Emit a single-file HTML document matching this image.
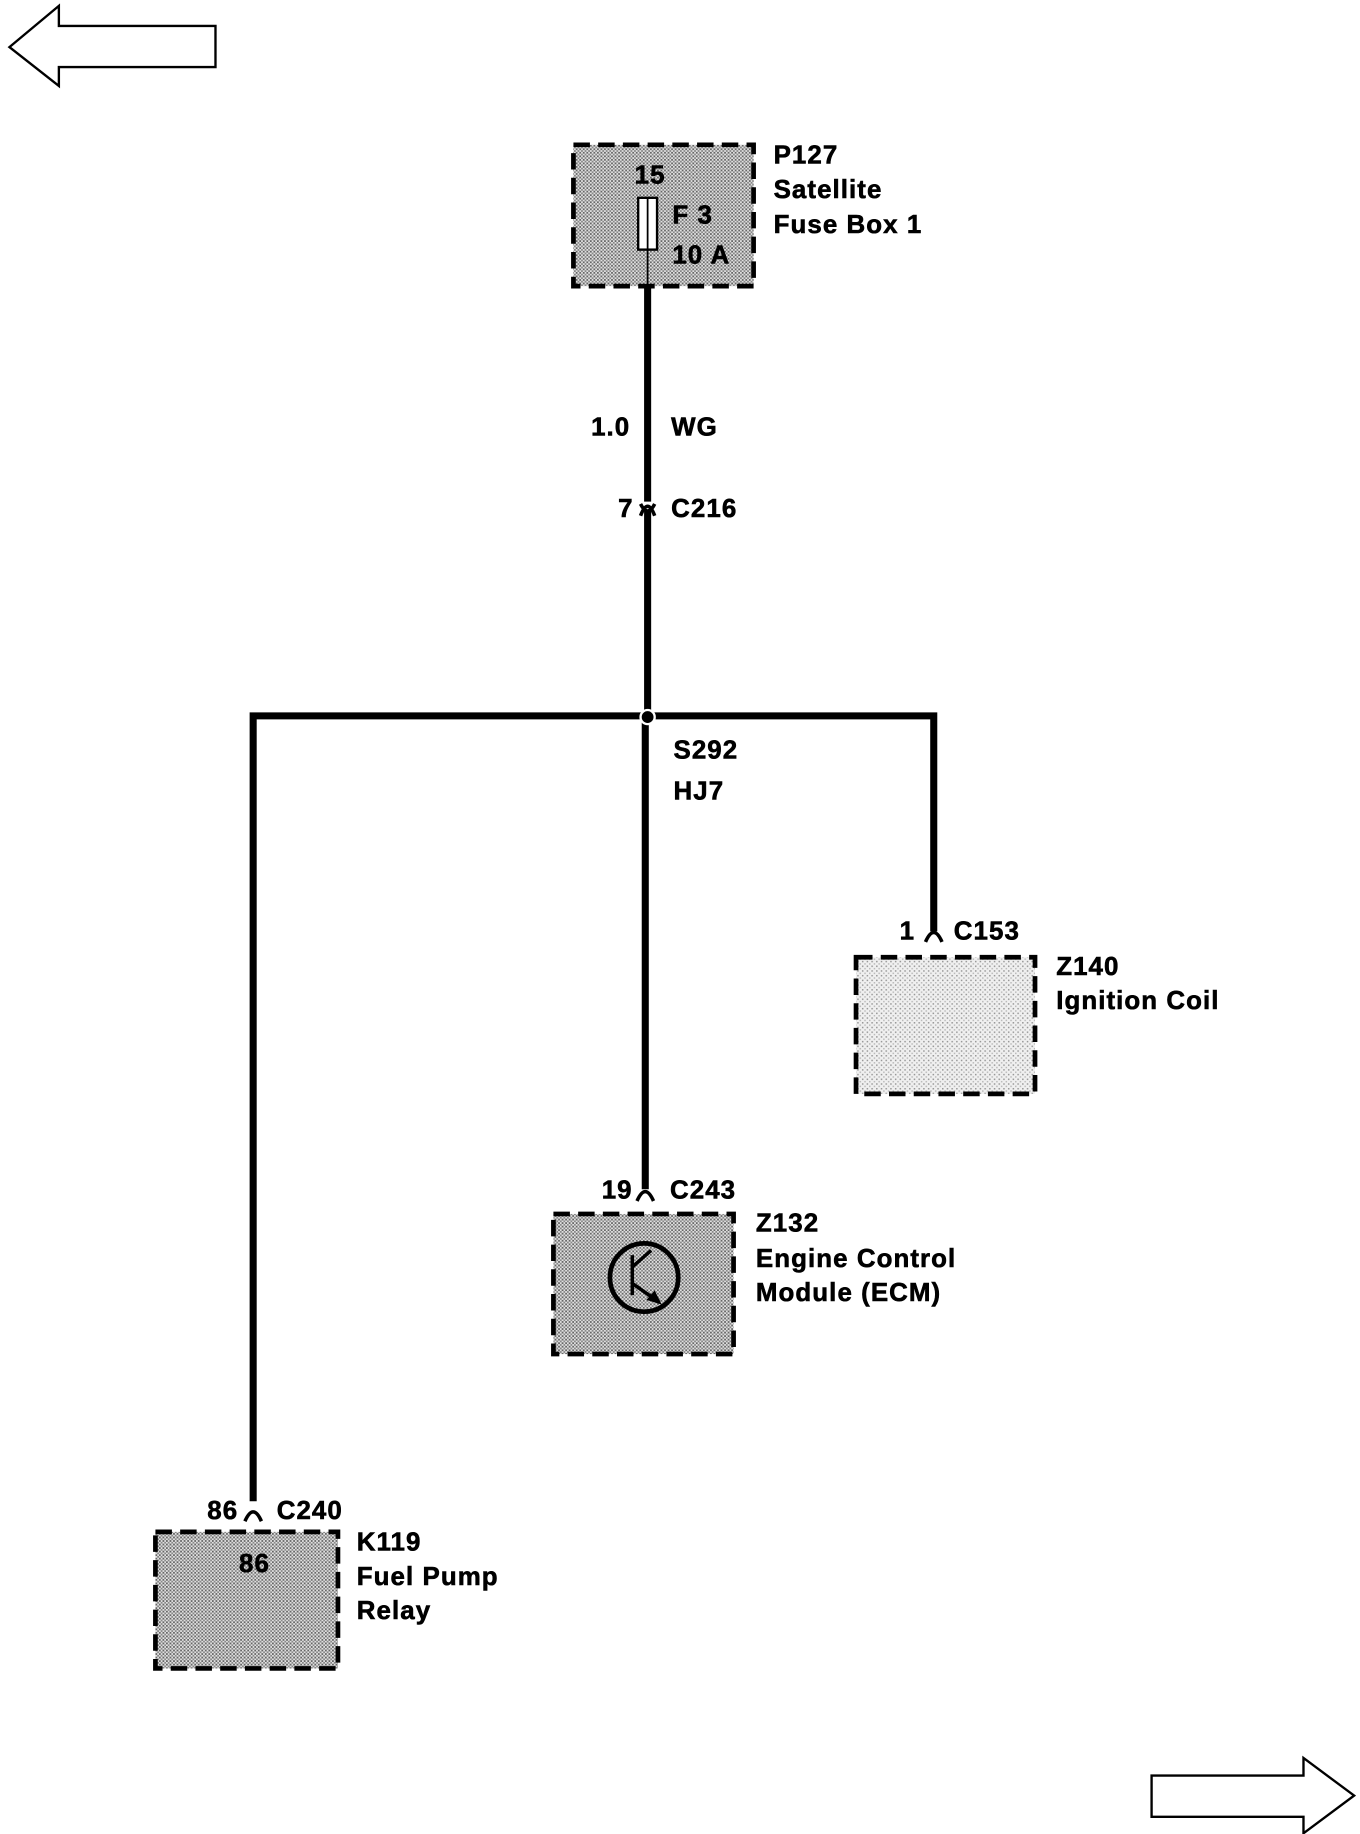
<!DOCTYPE html>
<html><head><meta charset="utf-8"><style>
html,body{margin:0;padding:0;background:#fff;}
svg{display:block;}
text{font-family:"Liberation Sans",Arial,sans-serif;font-weight:bold;font-size:22px;letter-spacing:0.9px;fill:#000;stroke:#000;stroke-width:0.5px;}
</style></head><body>
<svg width="1360" height="1834" viewBox="0 0 1155 1557.6" preserveAspectRatio="none" xmlns="http://www.w3.org/2000/svg">
<defs>
<pattern id="d" width="3" height="3" patternUnits="userSpaceOnUse">
<rect width="3" height="3" fill="#e0e0e0"/><rect width="1.5" height="1.5" fill="#666"/><rect x="1.5" y="1.5" width="1.5" height="1.5" fill="#888"/>
</pattern>
<pattern id="l" width="4" height="4" patternUnits="userSpaceOnUse">
<rect width="4" height="4" fill="#f0f0f0"/><rect width="1.3" height="1.3" fill="#999"/><rect x="2" y="2" width="1.3" height="1.3" fill="#bbb"/>
</pattern>
</defs>
<polygon points="8,40 50,5 50,22 183,22 183,57 50,57 50,73" fill="#fff" stroke="#000" stroke-width="2"/>
<polygon points="1150,1525 1107,1493 1107,1508 978,1508 978,1543 1107,1543 1107,1557" fill="#fff" stroke="#000" stroke-width="2"/>

<rect x="487" y="123" width="153" height="120" fill="url(#d)" stroke="#000" stroke-width="4" stroke-dasharray="14,7"/>
<rect x="542" y="168" width="16" height="44" fill="#fff" stroke="#000" stroke-width="2"/>
<line x1="550" y1="168" x2="550" y2="243" stroke="#000" stroke-width="1.5"/>
<text x="539" y="156">15</text>
<text x="571" y="190">F 3</text>
<text x="571" y="224">10 A</text>
<text x="657" y="139">P127</text>
<text x="657" y="168">Satellite</text>
<text x="657" y="198">Fuse Box 1</text>

<g stroke="#000" stroke-width="6" fill="none">
<line x1="550" y1="243" x2="550" y2="426"/>
<line x1="550" y1="434" x2="550" y2="608"/>
<polyline points="215,1275 215,608 793,608 793,791" stroke-linejoin="miter"/>
<line x1="548" y1="608" x2="548" y2="1010"/>
</g>
<circle cx="550" cy="609" r="6" fill="#000" stroke="#fff" stroke-width="2"/>
<text x="502" y="370">1.0</text>
<text x="570" y="370">WG</text>
<path d="M544,438 Q550,422 556,438 M544,428 Q550,440 556,428" stroke="#000" stroke-width="3" fill="none"/>
<text x="525" y="439">7</text>
<text x="570" y="439">C216</text>
<text x="572" y="644">S292</text>
<text x="572" y="679">HJ7</text>

<path d="M786,800 Q793,784 800,800" stroke="#000" stroke-width="3" fill="none"/>
<text x="764" y="798">1</text>
<text x="810" y="798">C153</text>
<rect x="727" y="813" width="152" height="116" fill="url(#l)" stroke="#000" stroke-width="4" stroke-dasharray="14,7"/>
<text x="897" y="828">Z140</text>
<text x="897" y="857">Ignition Coil</text>

<path d="M541,1020 Q548,1004 555,1020" stroke="#000" stroke-width="3" fill="none"/>
<text x="511" y="1018">19</text>
<text x="569" y="1018">C243</text>
<rect x="470" y="1031" width="153" height="119" fill="url(#d)" stroke="#000" stroke-width="4" stroke-dasharray="14,7"/>
<circle cx="547" cy="1085" r="29" fill="none" stroke="#000" stroke-width="4"/>
<line x1="537" y1="1066" x2="537" y2="1100" stroke="#000" stroke-width="3"/>
<line x1="537" y1="1076" x2="553" y2="1062" stroke="#000" stroke-width="3"/>
<line x1="537" y1="1090" x2="560" y2="1106" stroke="#000" stroke-width="3"/>
<polygon points="562,1108 549,1104 556,1096" fill="#000"/>
<text x="642" y="1046">Z132</text>
<text x="642" y="1076">Engine Control</text>
<text x="642" y="1105">Module (ECM)</text>

<path d="M208,1292 Q215,1276 222,1292" stroke="#000" stroke-width="3" fill="none"/>
<text x="176" y="1290">86</text>
<text x="235" y="1290">C240</text>
<rect x="132" y="1301" width="155" height="116" fill="url(#d)" stroke="#000" stroke-width="4" stroke-dasharray="14,7"/>
<text x="203" y="1335">86</text>
<text x="303" y="1317">K119</text>
<text x="303" y="1346">Fuel Pump</text>
<text x="303" y="1375">Relay</text>
</svg>
</body></html>
